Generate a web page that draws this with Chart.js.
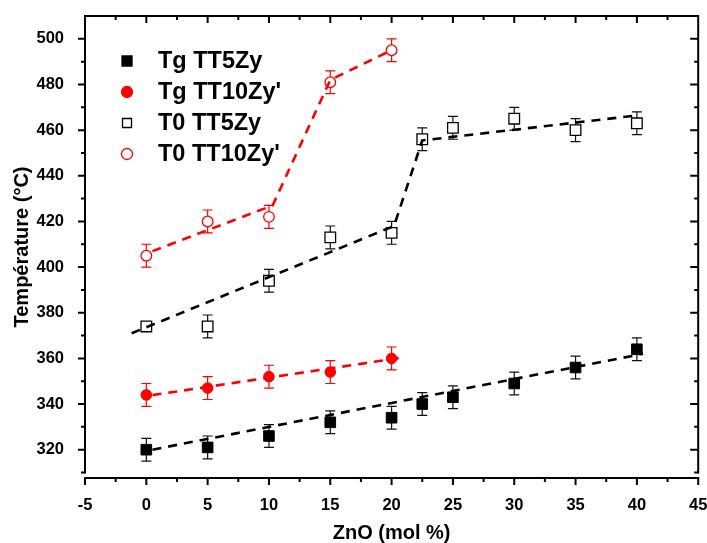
<!DOCTYPE html>
<html>
<head>
<meta charset="utf-8">
<script src="https://cdn.jsdelivr.net/npm/chart.js@4.4.1/dist/chart.umd.min.js"></script>
<style>
  html, body { margin: 0; padding: 0; background: #fff; }
  #wrap { width: 707px; height: 543px; }
</style>
</head>
<body>
<div id="wrap"><canvas id="myChart" width="707" height="543"></canvas></div>
<script>
const ctx = document.getElementById('myChart').getContext('2d');

// ZnO (mol %)
const xTT5 = [0, 5, 10, 15, 20, 22.5, 25, 30, 35, 40];
const xTT10 = [0, 5, 10, 15, 20];

// Température (°C)
const tgTT5 = [320, 321, 326, 332, 334, 340, 343, 349, 356, 364];
const tgTT10 = [344, 347, 352, 354, 360];
const t0TT5 = [374, 374, 394, 413, 415, 456, 461, 465, 460, 463];
const t0TT10 = [405, 420, 422, 481, 495];

// barres d'erreur
const errTgTT5 = [5, 5, 5, 5, 5, 5, 5, 5, 5, 5];
const errTgTT10 = [5, 5, 5, 5, 5];
const errT0TT5 = [0, 5, 5, 5, 5, 5, 5, 5, 5, 5];
const errT0TT10 = [5, 5, 5, 5, 5];

// droites (tirets)
const fitTgTT5X = [0.5, 40.5];
const fitTgTT5Y = [320, 362];
const fitTgTT10X = [0.5, 20.8];
const fitTgTT10Y = [343.9, 360.3];
const fitT0TT5X = [-1.2, 20.2, 22.5, 39.8];
const fitT0TT5Y = [371, 418, 455.5, 466.3];
const fitT0TT10X = [0.5, 10.3, 15, 20];
const fitT0TT10Y = [407, 427, 482, 495];

const xTicks = [-5, 0, 5, 10, 15, 20, 25, 30, 35, 40, 45];
const yTicks = [320, 340, 360, 380, 400, 420, 440, 460, 480, 500];

const noms = ['Tg TT5Zy', "Tg TT10Zy'", 'T0 TT5Zy', "T0 TT10Zy'"];

const ROUGE = '#ff0000';
const NOIR = '#000000';
const police = '"Liberation Sans", Arial, sans-serif';

function pts(xs, ys) {
    return xs.map((x, i) => ({ x: x, y: ys[i] }));
}

function serie(label, xs, ys, err, style, couleur, plein) {
    return {
        type: 'scatter',
        label: label,
        data: pts(xs, ys),
        err: err,
        pointStyle: style,
        pointRadius: style === 'rect' ? 7.5 : 5.3,
        pointBackgroundColor: plein ? couleur : '#ffffff',
        pointBorderColor: couleur,
        pointBorderWidth: plein ? 1 : 1.3,
        order: 2
    };
}

function droite(xs, ys, couleur) {
    return {
        type: 'line',
        data: pts(xs, ys),
        showLine: true,
        borderColor: couleur,
        borderWidth: 2.6,
        borderDash: [9, 7],
        pointRadius: 0,
        fill: false,
        tension: 0,
        order: 1
    };
}

const datasets = [
    serie(noms[0], xTT5, tgTT5, errTgTT5, 'rect', NOIR, true),
    serie(noms[1], xTT10, tgTT10, errTgTT10, 'circle', ROUGE, true),
    serie(noms[2], xTT5, t0TT5, errT0TT5, 'rect', NOIR, false),
    serie(noms[3], xTT10, t0TT10, errT0TT10, 'circle', ROUGE, false),
    droite(fitTgTT5X, fitTgTT5Y, NOIR),
    droite(fitTgTT10X, fitTgTT10Y, ROUGE),
    droite(fitT0TT5X, fitT0TT5Y, NOIR),
    droite(fitT0TT10X, fitT0TT10Y, ROUGE)
];

// barres d'erreur sous les symboles
const erreurs = {
    id: 'erreurs',
    beforeDatasetsDraw(chart) {
        const c = chart.ctx;
        const sx = chart.scales.x, sy = chart.scales.y;
        c.save();
        chart.data.datasets.forEach(ds => {
            if (!ds.err) return;
            c.strokeStyle = ds.pointBorderColor === ROUGE ? ROUGE : '#111';
            c.lineWidth = 1.2;
            ds.data.forEach((p, i) => {
                const e = ds.err[i];
                if (!e) return;
                const px = sx.getPixelForValue(p.x);
                const y1 = sy.getPixelForValue(p.y + e);
                const y2 = sy.getPixelForValue(p.y - e);
                c.beginPath();
                c.moveTo(px, y1); c.lineTo(px, y2);
                c.moveTo(px - 5, y1); c.lineTo(px + 5, y1);
                c.moveTo(px - 5, y2); c.lineTo(px + 5, y2);
                c.stroke();
            });
        });
        c.restore();
    }
};

// cadre + graduations façon Origin
const cadre = {
    id: 'cadre',
    afterDraw(chart) {
        const c = chart.ctx;
        const a = chart.chartArea;
        const sx = chart.scales.x, sy = chart.scales.y;
        const bas = sy.getPixelForValue(310);
        c.save();
        c.strokeStyle = '#000';
        c.lineWidth = 2;
        c.lineCap = 'square';
        c.beginPath();
        c.moveTo(a.left, bas); c.lineTo(a.left, a.top); c.lineTo(a.right, a.top); c.lineTo(a.right, bas);
        c.moveTo(a.left, a.bottom); c.lineTo(a.right, a.bottom);
        c.stroke();
        c.lineCap = 'butt';
        c.beginPath();
        for (let v = -5; v <= 45; v += 2.5) {
            const px = sx.getPixelForValue(v);
            const major = v % 5 === 0;
            const l = major ? 7 : 4;
            c.moveTo(px, a.bottom); c.lineTo(px, a.bottom + l);
            if (v > -5 && v < 45) { c.moveTo(px, a.top); c.lineTo(px, a.top + l); }
        }
        for (let v = 310; v <= 500; v += 10) {
            const py = sy.getPixelForValue(v);
            const major = v % 20 === 0;
            c.moveTo(a.left, py); c.lineTo(a.left - (major ? 7 : 4), py);
            c.moveTo(a.right, py); c.lineTo(a.right - (major ? 8 : 4), py);
        }
        c.stroke();
        c.restore();
    }
};

// légende dans le graphique
const legende = {
    id: 'legende',
    afterDraw(chart) {
        const c = chart.ctx;
        const lignes = [61, 92, 123, 154];
        const xm = 127;
        c.save();
        c.font = 'bold 23.5px ' + police;
        c.textBaseline = 'middle';
        c.fillStyle = '#000';
        noms.forEach((nom, i) => {
            const ds = chart.data.datasets[i];
            const y = lignes[i];
            c.beginPath();
            if (ds.pointStyle === 'rect') {
                const s = ds.pointBackgroundColor === '#ffffff' ? 9 : 10;
                c.rect(xm - s / 2, y - s / 2, s, s);
            } else {
                c.arc(xm, y, 5.5, 0, Math.PI * 2);
            }
            c.fillStyle = ds.pointBackgroundColor;
            c.fill();
            c.lineWidth = 1.3;
            c.strokeStyle = ds.pointBorderColor;
            c.stroke();
            c.fillStyle = '#000';
            c.fillText(nom, 158, y + 1);
        });
        c.restore();
    }
};

// pas de marge automatique pour les étiquettes : la zone reste fixe
function sansMarge(s) {
    s.paddingLeft = 0;
    s.paddingRight = 0;
    s.paddingTop = 0;
    s.paddingBottom = 0;
}

const myChart = new Chart(ctx, {
    data: { datasets: datasets },
    options: {
        responsive: false,
        animation: false,
        layout: { padding: { top: 16, right: 8, left: 0, bottom: 0 } },
        plugins: {
            legend: { display: false },
            tooltip: { enabled: false }
        },
        scales: {
            x: {
                type: 'linear',
                min: -5,
                max: 45,
                grid: { display: false },
                border: { display: false },
                afterBuildTicks: s => { s.ticks = xTicks.map(v => ({ value: v })); },
                afterFit: s => { s.height = 65; sansMarge(s); },
                ticks: {
                    padding: 10,
                    color: '#000',
                    font: { family: police, size: 16.5, weight: 'bold' }
                },
                title: {
                    display: true,
                    text: 'ZnO (mol %)',
                    color: '#000',
                    padding: { top: 0, bottom: 0 },
                    font: { family: police, size: 20, weight: 'bold', lineHeight: 1 }
                }
            },
            y: {
                type: 'linear',
                min: 307.6,
                max: 510,
                grid: { display: false },
                border: { display: false },
                afterBuildTicks: s => { s.ticks = yTicks.map(v => ({ value: v })); },
                afterFit: s => { s.width = 85; sansMarge(s); },
                ticks: {
                    padding: 13,
                    color: '#000',
                    font: { family: police, size: 16.5, weight: 'bold' }
                },
                title: {
                    display: true,
                    text: 'Température (°C)',
                    color: '#000',
                    padding: { top: 10, bottom: 0 },
                    font: { family: police, size: 20, weight: 'bold' }
                }
            }
        }
    },
    plugins: [erreurs, cadre, legende]
});
</script>
</body>
</html>
